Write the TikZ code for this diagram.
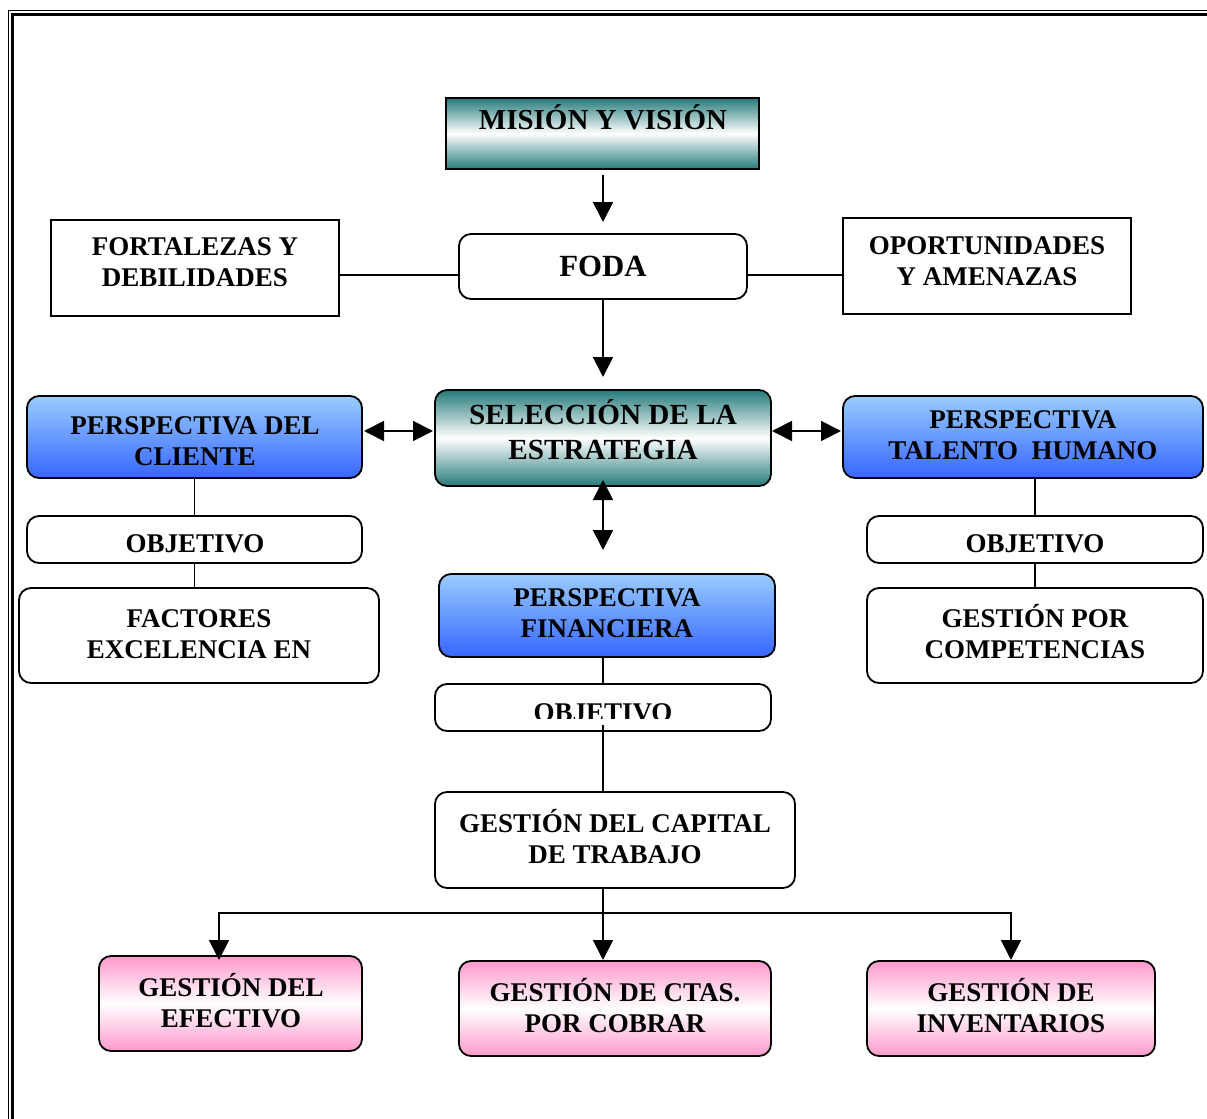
\documentclass[tikz,border=0pt]{standalone}
\usepackage{fontspec}
\setmainfont{Liberation Serif}
\usetikzlibrary{arrows.meta}
\definecolor{tealdark}{RGB}{38,122,122}
\definecolor{bluetop}{RGB}{153,204,255}
\definecolor{bluebot}{RGB}{55,102,255}
\definecolor{pinkedge}{RGB}{255,153,204}

\begin{document}
\begin{tikzpicture}[x=0.5pt,y=-0.5pt,
  box/.style={draw, line width=0.9pt, inner sep=0pt, outer sep=0pt},
  rbox/.style={box, rounded corners=6pt},
  tealfill/.style={top color=tealdark, bottom color=tealdark, middle color=white},
  bluefill/.style={top color=bluetop, bottom color=bluebot},
  pinkfill/.style={top color=pinkedge, bottom color=pinkedge, middle color=white},
  txt/.style={inner sep=0pt, align=center,
    font=\bfseries\fontsize{13.5}{15.5}\selectfont,
    execute at begin node=\rule{0pt}{1.1em},
    execute at end node=\rule[-0.4em]{0pt}{0.4em}},
  txttwo/.style={txt, yshift=-3pt},
  txtacc/.style={txt, yshift=-1.8pt},
  link/.style={line width=0.9pt},
  arr/.style={link, -{Triangle[length=10pt,width=10pt]}},
  arrs/.style={link, {Triangle[length=10pt,width=10pt]}-{Triangle[length=10pt,width=10pt]}},
]
\useasboundingbox (0,0) rectangle (1207,1119);

% double page frame, running off the right and bottom edges
\begin{scope}
  \clip (0,0) rectangle (1207,1119);
  \draw[line width=0.5pt] (8.8,1140) |- (1230,10.5);
  \draw[line width=1.5pt] (12.5,1140) |- (1230,14.2);
\end{scope}

% boxes
\node[box, tealfill, minimum width=156.5pt, minimum height=35.5pt] (mision) at (602.5,133.5) {};
\node[rbox, fill=white, minimum width=144pt, minimum height=32.5pt] (foda) at (603,266.5) {};
\node[box, fill=white, minimum width=144pt, minimum height=48pt] (fort) at (195,268) {};
\node[box, fill=white, minimum width=144pt, minimum height=48pt] (opor) at (987,266) {};
\node[rbox, tealfill, minimum width=168pt, minimum height=48pt] (sel) at (603,438) {};
\node[rbox, bluefill, minimum width=167.5pt, minimum height=41pt] (cli) at (194.5,437) {};
\node[rbox, bluefill, minimum width=180pt, minimum height=41pt] (tal) at (1023,437) {};
\node[rbox, fill=white, minimum width=167.5pt, minimum height=23.5pt] (objL) at (194.5,539.5) {};
\node[rbox, fill=white, minimum width=180pt, minimum height=47.5pt] (fac) at (199,635.5) {};
\node[rbox, fill=white, minimum width=168pt, minimum height=23.5pt] (objR) at (1035,539.5) {};
\node[rbox, fill=white, minimum width=168pt, minimum height=47.5pt] (gpc) at (1035,635.5) {};
\node[rbox, bluefill, minimum width=168pt, minimum height=41.5pt] (fin) at (607,615.5) {};
\node[rbox, fill=white, minimum width=168pt, minimum height=23.5pt] (obj2) at (603,707.5) {};
\node[rbox, fill=white, minimum width=180pt, minimum height=48pt] (cap) at (615,840) {};
\node[rbox, pinkfill, minimum width=131.5pt, minimum height=47.5pt] (efe) at (230.5,1003.5) {};
\node[rbox, pinkfill, minimum width=156pt, minimum height=47.5pt] (ctas) at (615,1008.5) {};
\node[rbox, pinkfill, minimum width=144pt, minimum height=47.5pt] (inv) at (1011,1008.5) {};

% texts
\node[txt, font=\bfseries\fontsize{14.5}{17}\selectfont] (misiontxt) at (603,119) {MISIÓN Y VISIÓN};
\node[txt, font=\bfseries\fontsize{15.4}{18}\selectfont] (fodatxt) at (603,266) {FODA};
\node[txttwo] (forttxt) at (195,261.5) {FORTALEZAS Y\\DEBILIDADES};
\node[txttwo] (oportxt) at (987,260) {OPORTUNIDADES\\Y AMENAZAS};
\node[txtacc, font=\bfseries\fontsize{14.6}{17.5}\selectfont] (seltxt) at (603,431.5) {SELECCIÓN DE LA\\ESTRATEGIA};
\node[txttwo] (clitxt) at (195,440.5) {PERSPECTIVA DEL\\CLIENTE};
\node[txttwo] (taltxt) at (1023,434) {PERSPECTIVA\\TALENTO\ \ HUMANO};
\node[txt] (objLtxt) at (195,543) {OBJETIVO};
\node[txttwo] (factxt) at (199,633.5) {FACTORES\\EXCELENCIA EN};
\node[txt] (objRtxt) at (1035,543) {OBJETIVO};
\node[txtacc] (gpctxt) at (1035,633.5) {GESTIÓN POR\\COMPETENCIAS};
\node[txttwo] (fintxt) at (607,612.5) {PERSPECTIVA\\FINANCIERA};
\begin{scope}
  \clip (435,684) rectangle (771,718.5);
  \node[txt] (obj2txt) at (603,712) {OBJETIVO};
\end{scope}
\node[txtacc] (captxt) at (615,838.5) {GESTIÓN DEL CAPITAL\\DE TRABAJO};
\node[txtacc] (efetxt) at (231,1002) {GESTIÓN DEL\\EFECTIVO};
\node[txtacc] (ctastxt) at (615,1007) {GESTIÓN DE CTAS.\\POR COBRAR};
\node[txtacc] (invtxt) at (1011,1007) {GESTIÓN DE\\INVENTARIOS};

% connectors
\draw[arr, shorten <=3pt, shorten >=6pt] (foda.north |- mision.south) -- (foda.north);
\draw[arr, shorten >=6.5pt] (foda.south) -- (sel.north);
\draw[link] ([yshift=-4.25pt]foda.west) -- ([yshift=-4.25pt]foda.west -| fort.east);
\draw[link] ([yshift=-4.25pt]foda.east) -- ([yshift=-4.25pt]foda.east -| opor.west);
\draw[arrs, shorten <=1pt, shorten >=1pt] ([yshift=3.5pt]sel.west -| cli.east) -- ([yshift=3.5pt]sel.west);
\draw[arrs, shorten <=0.5pt, shorten >=1pt] ([yshift=3.5pt]sel.east) -- ([yshift=3.5pt]sel.east -| tal.west);
\coordinate (finarr) at (603,550);
\draw[arrs] ([yshift=3pt]sel.south) -- (finarr);
\draw[link] (cli.south) -- (objL.north);
\draw[link] (objL.south) -- (objL.south |- fac.north);
\draw[link] (objR.north |- tal.south) -- (objR.north);
\draw[link] (objR.south) -- (gpc.north);
\draw[link] (obj2.north |- fin.south) -- (obj2.north);
\draw[link] ([yshift=3pt]obj2.south) -- (obj2.south |- cap.north);
\coordinate (split) at (603,913);
\coordinate (efein) at (219,960);
\coordinate (invin) at (1011,960);
\draw[link] (split |- cap.south) -- (split);
\draw[arr] (split) -| (efein);
\draw[arr] (split) -| (invin);
\draw[arr, shorten >=0.5pt] (split) -- (split |- ctas.north);
\end{tikzpicture}
\end{document}
